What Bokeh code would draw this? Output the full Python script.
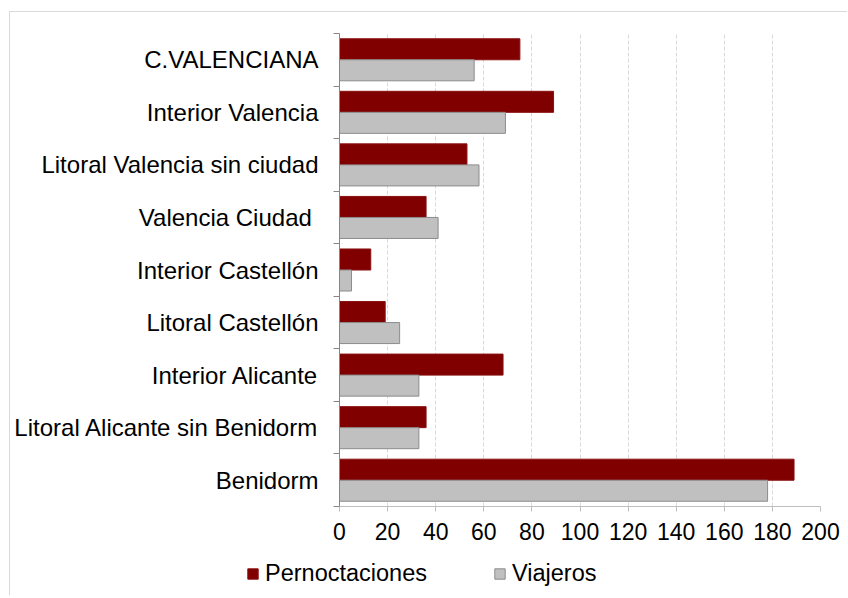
from bokeh.plotting import figure
from bokeh.models import (ColumnDataSource, Range1d, FixedTicker, Legend, LegendItem)
from bokeh.embed import file_html
from bokeh.resources import INLINE

categories = ["C.VALENCIANA", "Interior Valencia", "Litoral Valencia sin ciudad",
              "Valencia Ciudad ", "Interior Castellón", "Litoral Castellón",
              "Interior Alicante", "Litoral Alicante sin Benidorm", "Benidorm"]
pernoctaciones = [75, 89, 53, 36, 13, 19, 68, 36, 189]
viajeros = [56, 69, 58, 41, 5, 25, 33, 33, 178]
series_names = ["Pernoctaciones", "Viajeros"]
x_ticks = [0, 20, 40, 60, 80, 100, 120, 140, 160, 180, 200]

FONT = "Liberation Sans"
RED, RED_LINE = "#800000", "#8a1010"
GRAY, GRAY_LINE = "#c0c0c0", "#8c8c8c"
BORDER = "1px solid #d9d9d9"
n = len(categories)
centers = [n - i - 0.5 for i in range(n)]

src_p = ColumnDataSource(dict(y=[c + 0.2 for c in centers], right=pernoctaciones))
src_v = ColumnDataSource(dict(y=[c - 0.2 for c in centers], right=viajeros))

p = figure(width=838, height=540, output_backend="svg", toolbar_location=None,
           x_range=Range1d(0, 200), y_range=Range1d(0, n),
           min_border_left=329, min_border_right=28, min_border_top=21,
           min_border_bottom=46)
p.styles = {"border-left": BORDER, "border-top": BORDER,
            "margin-left": "9px", "margin-top": "11px"}
p.outline_line_color = None
p.background_fill_color = "white"
p.border_fill_color = "white"

p.hbar(y="y", left=0, right="right", height=0.4, source=src_p,
       fill_color=RED, line_color=RED_LINE, line_width=1)
p.hbar(y="y", left=0, right="right", height=0.4, source=src_v,
       fill_color=GRAY, line_color=GRAY_LINE, line_width=1)

# x axis
p.xaxis.ticker = FixedTicker(ticks=x_ticks)
p.xaxis.axis_line_color = "#bfbfbf"
p.xaxis.major_tick_line_color = "#bfbfbf"
p.xaxis.major_tick_out = 5
p.xaxis.major_tick_in = 0
p.xaxis.minor_tick_line_color = None
p.xaxis.major_label_text_font = FONT
p.xaxis.major_label_text_font_size = "23px"
p.xaxis.major_label_text_color = "#000000"
p.xaxis.major_label_standoff = 11

# y axis
p.yaxis.ticker = FixedTicker(ticks=centers, minor_ticks=list(range(n + 1)))
p.yaxis.major_label_overrides = {c: lab for c, lab in zip(centers, categories)}
p.yaxis.axis_line_color = "#868686"
p.yaxis.major_tick_line_color = None
p.yaxis.major_tick_out = 0
p.yaxis.major_tick_in = 0
p.yaxis.minor_tick_line_color = "#868686"
p.yaxis.minor_tick_out = 6
p.yaxis.minor_tick_in = 0
p.yaxis.major_label_text_font = FONT
p.yaxis.major_label_text_font_size = "24px"
p.yaxis.major_label_text_color = "#000000"
p.yaxis.major_label_standoff = 15

# grid
p.xgrid.grid_line_color = "#d9d9d9"
p.xgrid.grid_line_dash = "4 2"
p.xgrid.ticker = FixedTicker(ticks=x_ticks)
p.ygrid.grid_line_color = None

# legend strip: separate root figure so the legend can sit left of the plot frame
# (its bar renderers lie outside its ranges, only their legend swatches show)
lf = figure(width=838, height=44, output_backend="svg", toolbar_location=None,
            x_range=Range1d(0, 200), y_range=Range1d(20, 21),
            x_axis_location=None, y_axis_location=None,
            min_border_left=0, min_border_right=0, min_border_top=0,
            min_border_bottom=0)
lf.styles = {"border-left": BORDER, "margin-left": "9px"}
lf.outline_line_color = None
lf.background_fill_color = "white"
lf.border_fill_color = "white"
lf.xgrid.grid_line_color = None
lf.ygrid.grid_line_color = None
lr_p = lf.hbar(y="y", left=0, right="right", height=0.4, source=src_p,
               fill_color=RED, line_color=RED_LINE)
lr_v = lf.hbar(y="y", left=0, right="right", height=0.4, source=src_v,
               fill_color=GRAY, line_color=GRAY_LINE)
legend = Legend(items=[LegendItem(label=series_names[0], renderers=[lr_p]),
                       LegendItem(label=series_names[1], renderers=[lr_v])],
                orientation="horizontal", location=(236, 8),
                label_text_font=FONT, label_text_font_size="23.5px",
                label_text_color="#000000",
                glyph_width=13, glyph_height=13, label_standoff=6,
                spacing=66, padding=0, margin=0, border_line_color=None,
                background_fill_alpha=0, label_height=25)
lf.add_layout(legend, "center")

open("out.html", "w").write(file_html([p, lf], INLINE))
